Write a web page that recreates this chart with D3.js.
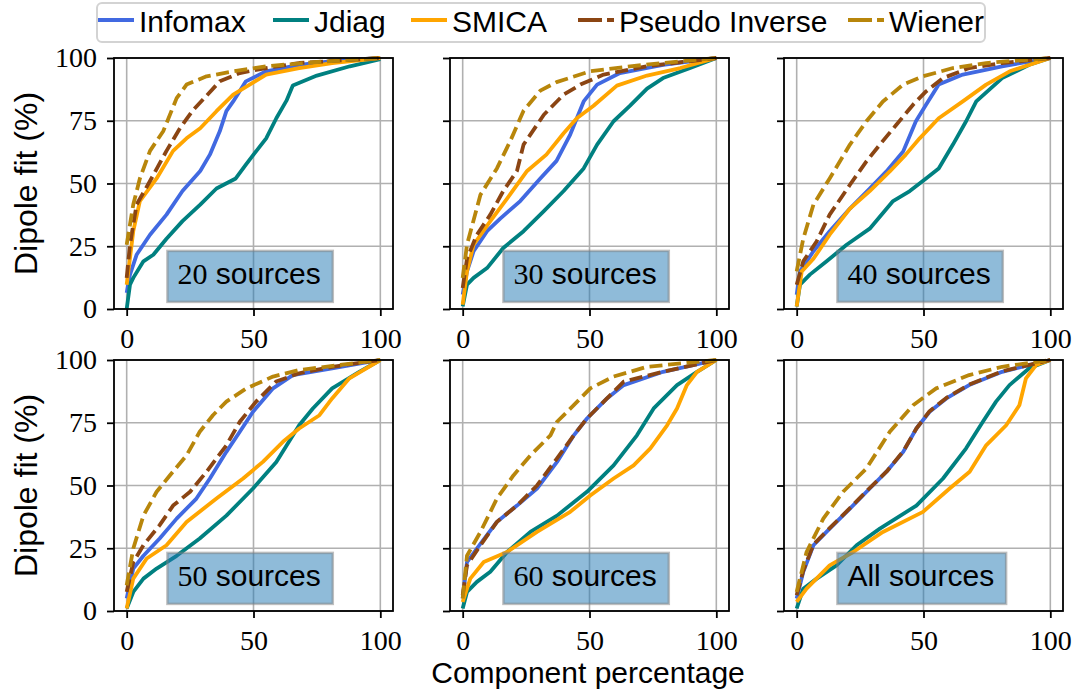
<!DOCTYPE html>
<html>
<head>
<meta charset="utf-8">
<script src="https://cdn.jsdelivr.net/npm/d3@7"></script>
<style>
  html, body { margin: 0; padding: 0; background: #fff; }
  svg { display: block; }
</style>
</head>
<body>
<svg id="chart" width="1081" height="695"></svg>
<script>
// ---------------- DATA ----------------
const methods = ["Infomax", "Jdiag", "SMICA", "Pseudo Inverse", "Wiener"];
const panelLabels = ["20", "30", "40", "50", "60", "All"];
const xTicks = [0, 50, 100];
const yTicks = [0, 25, 50, 75, 100];
const xLabel = "Component percentage";
const yLabel = "Dipole fit (%)";

// [component percentage, dipole fit %]
const src20 = {
  "Infomax": [[0,6.4],[1.3,13.7],[3.9,21.6],[9.2,29.6],[15.7,37.6],[22,47],[29,55],[32.8,61.5],[36.7,70.8],[39.3,78.8],[42,82.7],[47,90.7],[55,94.7],[68,97.3],[81,98.7],[100,100]],
  "Jdiag": [[0,0],[1.3,9.7],[2.6,12.4],[6.6,19],[10.5,21.6],[15.7,28],[22,35],[29,41.6],[35.4,48],[43,52],[47,57.5],[50,61.5],[55,68],[59,76],[63,83],[65.5,89],[75,93],[88,96.7],[100,99.5]],
  "SMICA": [[0,9.7],[2.6,31],[5.2,43],[11.8,52],[18.3,63],[23.6,68],[29,72],[35.4,78.8],[42,85.4],[48.5,89.4],[55,93.4],[68,96],[81,98],[100,100]],
  "Pseudo Inverse": [[0,12.4],[1.3,25.6],[3.9,41.6],[9.2,51],[15.7,63],[21,72],[26,79],[31.5,85],[36.7,90.7],[44.6,94],[55,96],[68,98],[100,100]],
  "Wiener": [[0,25.6],[2.6,41.6],[5.2,52],[9.2,63],[14.4,70.8],[19.7,84],[23.6,89.4],[31.5,92.7],[42,94.7],[55,96.7],[75,98.4],[100,100]]
};
const src30 = {
  "Infomax": [[0,5.7],[1.7,15],[4.3,23],[9.6,31],[14.8,36],[22.7,43],[30.6,52],[37,59],[42.4,69.5],[47.7,82.7],[53,89.4],[62,94],[79,97.3],[100,100]],
  "Jdiag": [[0,1],[1.7,9.7],[4.3,12.4],[9.6,16.3],[16,24.3],[24,31],[32,39],[39.8,47],[47.7,56],[53,65.5],[59.5,74.8],[66,81],[72.7,87.8],[79,92],[89.7,96],[100,100]],
  "SMICA": [[0,1.7],[1.7,15],[4.3,25.6],[10.9,35],[17.5,44],[25.4,55],[33,61.5],[39.8,70],[45,76],[51.6,81],[60.8,89],[72.7,93],[85.8,96],[100,100]],
  "Pseudo Inverse": [[0,8.4],[1.7,20],[5.6,29.6],[10.9,37.6],[16,47],[21.4,55],[24,65.5],[32,77.4],[39.8,85.4],[46.4,89.4],[55.6,93.4],[72.7,96.7],[100,100]],
  "Wiener": [[0,12.4],[1.7,25.6],[7,45.5],[13.5,56],[18.8,67],[24,79],[30.6,87],[37,90.4],[50.3,94.7],[66,96.7],[100,100]]
};
const src40 = {
  "Infomax": [[0,5.7],[1.3,15],[6.6,23],[13,31],[21,40],[28.8,48],[35.4,54.8],[42,62.8],[47,74.8],[51,81.4],[56,89.4],[65.5,93.4],[81,96.7],[100,100]],
  "Jdiag": [[0,1],[1.3,9.7],[5.2,13.7],[11.8,19],[19.7,25.6],[28.8,32],[38,43],[44.6,47],[51,52],[56,56],[61.6,65.5],[66.8,74.8],[70.8,82.7],[81,92],[91.7,97.3],[100,100]],
  "SMICA": [[0,1],[2,15],[6.6,20],[13,29.6],[21,40],[28.8,47],[36.7,54.8],[43,61.5],[48.5,68],[56,76],[65.5,82.7],[74.7,89.4],[84,94.7],[100,100]],
  "Pseudo Inverse": [[0,9.7],[2.6,19],[7.9,27],[13,37.6],[21,49.5],[27.5,58.8],[32.8,65.5],[39.3,73.4],[45.9,81.4],[51,86.7],[57.7,92],[68,96],[81,98],[100,100]],
  "Wiener": [[0,15],[2.6,28],[6.6,41.6],[13,52],[21,65.5],[27.5,74.8],[34,82.7],[42,89.4],[49.8,92.7],[61.6,96],[74.7,98],[100,100]]
};
const src50 = {
  "Infomax": [[0,5],[2.6,16.9],[6.6,22],[13,28.9],[19.7,36.8],[27.5,44.8],[32.8,52.8],[39.3,63.4],[44.6,71.4],[49.8,79.4],[57.7,88.7],[65.5,94],[81,96.7],[100,100]],
  "Jdiag": [[0,1],[2.6,7.6],[6.6,12.9],[11.8,16.9],[19.7,22],[28.8,28.9],[39.3,38],[49.8,48.8],[59,59.4],[68,74],[73.4,80.7],[81,88.7],[91.7,95.3],[100,100]],
  "SMICA": [[0,1],[2.6,12.9],[7.9,20.9],[15.7,26.2],[23.6,35.5],[35.4,44.8],[45.9,52.8],[53.7,59.4],[61.6,67.4],[68,72.7],[76,78],[81,84.7],[87.8,92.7],[100,100]],
  "Pseudo Inverse": [[0,7.6],[2.6,19.5],[6.6,26.2],[13,34.2],[18.3,42],[25,47.5],[31.5,55.5],[39.3,66],[44.6,75.4],[51,83.4],[58.9,91.4],[68,94.7],[81,97.3],[100,100]],
  "Wiener": [[0,10.2],[2.6,24.9],[6.6,38],[11.8,47.5],[17,54],[23.6,62],[28.8,71.4],[34,78],[39.3,83.4],[47.2,88.7],[57.7,93.4],[68,96],[100,100]]
};
const src60 = {
  "Infomax": [[0,5],[1.7,19.5],[5.6,24.9],[13.5,35.5],[21.4,42],[29.3,48.8],[37.2,59.4],[43.8,70],[49,76.7],[56.9,84.7],[63.5,90],[79,95.3],[100,100]],
  "Jdiag": [[0,1],[1.7,7.6],[5.6,11.6],[10.9,15.6],[17.5,23.5],[26.7,31.5],[37.2,38],[49,47.5],[59.5,58],[68.7,70],[75.3,80.7],[84.5,90],[92.4,95.3],[100,100]],
  "SMICA": [[0,3.6],[3,12.9],[8.3,19.5],[17.5,23.5],[29.3,31.5],[42.4,39.5],[50.3,46],[59.5,52.8],[67.4,58],[74,64.8],[80.6,74],[84.5,80.7],[88.4,90],[92.4,95.3],[100,100]],
  "Pseudo Inverse": [[0,6.3],[1.7,18.2],[7,26.2],[13.5,35.5],[21.4,42],[29.3,50],[37.2,60.8],[43.8,70],[49,76.7],[56.9,84.7],[63.5,91.4],[79,95.3],[100,100]],
  "Wiener": [[0,5],[1.7,22],[7,31.5],[13.5,44.8],[20,54],[26.7,62],[34.6,70],[37.2,75.4],[43.8,82],[50.3,88.7],[59.5,93.4],[72.7,97.3],[100,100]]
};
const srcAll = {
  "Infomax": [[0,5],[2.6,15.6],[6.6,26.2],[13,32.8],[21,40.8],[28.8,48.8],[35.4,55.5],[42,63.4],[47.2,72.7],[52.4,79.4],[59,84.7],[68,90],[81,95.3],[100,100]],
  "Jdiag": [[0,1],[2.6,8.9],[7.9,12.9],[15.7,18.2],[23.6,26.2],[32.8,32.8],[47.2,42],[57.7,52.8],[66.8,64.8],[73.4,75.4],[78.6,83.4],[83.9,90],[91.7,96.7],[100,100]],
  "SMICA": [[0,3.6],[3.9,8.9],[13,18.2],[22.3,23.5],[34,31.5],[49.8,39.5],[60.3,48.8],[68.2,55.5],[74.7,66],[82.6,74],[87.8,82],[90.4,92.7],[94.4,98],[100,100]],
  "Pseudo Inverse": [[0,6.3],[2.6,16],[6.6,26.5],[13,33],[21,41],[28.8,49],[35.4,55.5],[42,63.6],[47.2,72.7],[52.4,79.6],[59,84.9],[68,90.2],[81,95.5],[100,100]],
  "Wiener": [[0,7.6],[3.9,23.5],[10.5,36.8],[18.3,47.5],[27.5,56.8],[36.7,71.4],[45.9,82],[55,88.7],[68,94],[81,97.3],[100,100]]
};
const panelData = [src20, src30, src40, src50, src60, srcAll];

// ---------------- STYLE / LAYOUT ----------------
const colors = {
  "Infomax": "#4169e1", "Jdiag": "#008080", "SMICA": "#ffa500",
  "Pseudo Inverse": "#8b4513", "Wiener": "#b8860b"
};
const dashed = { "Pseudo Inverse": true, "Wiener": true };
const SANS = "'Liberation Sans', Arial, sans-serif";
const SERIF = "'Liberation Serif', 'Times New Roman', serif";

const colLeft = [114, 450, 784];
const rowTop = [58, 360];
const pw = 279, ph = 251;

const svg = d3.select("#chart");
svg.append("rect").attr("width", 1081).attr("height", 695).attr("fill", "#fff");

panelData.forEach((pd, i) => {
  const col = i % 3, row = Math.floor(i / 3);
  const L = colLeft[col], T = rowTop[row];
  const x = d3.scaleLinear().domain([-5, 105]).range([L, L + pw]);
  const y = d3.scaleLinear().domain([0, 100]).range([T + ph, T]);
  const g = svg.append("g");

  // grid
  g.selectAll(".gx").data(xTicks).join("line")
    .attr("x1", d => x(d)).attr("x2", d => x(d)).attr("y1", T).attr("y2", T + ph)
    .attr("stroke", "#b0b0b0").attr("stroke-width", 1.6);
  g.selectAll(".gy").data(yTicks).join("line")
    .attr("x1", L).attr("x2", L + pw).attr("y1", d => y(d)).attr("y2", d => y(d))
    .attr("stroke", "#b0b0b0").attr("stroke-width", 1.6);

  // lines
  const line = d3.line().x(d => x(d[0])).y(d => y(d[1]));
  methods.forEach(m => {
    g.append("path").datum(pd[m])
      .attr("d", line)
      .attr("fill", "none")
      .attr("stroke", colors[m])
      .attr("stroke-width", 3.8)
      .attr("stroke-linejoin", "round")
      .attr("stroke-dasharray", dashed[m] ? "13,5.6" : null);
  });

  // frame
  g.append("rect").attr("x", L).attr("y", T).attr("width", pw).attr("height", ph)
    .attr("fill", "none").attr("stroke", "#000").attr("stroke-width", 1.8);

  // axes
  const ax = g.append("g").attr("transform", `translate(0,${T + ph})`)
    .call(d3.axisBottom(x).tickValues(xTicks).tickSize(7).tickPadding(12).tickFormat(d3.format("d")));
  const ay = g.append("g").attr("transform", `translate(${L},0)`)
    .call(d3.axisLeft(y).tickValues(yTicks).tickSize(7).tickPadding(10)
      .tickFormat(col === 0 ? d3.format("d") : () => ""));
  [ax, ay].forEach(a => {
    a.select(".domain").remove();
    a.selectAll(".tick line").attr("stroke", "#000").attr("stroke-width", 1.8);
    a.selectAll(".tick text").attr("font-family", SERIF).attr("font-size", 28).attr("fill", "#000");
  });

  // annotation box
  const tx = x(20), ty = y(10);
  const t = g.append("text").attr("x", tx).attr("y", ty)
    .attr("font-size", 30).attr("fill", "#000");
  const lab = panelLabels[i];
  if (/^\d+$/.test(lab)) {
    t.append("tspan").attr("font-family", SERIF).text(lab);
    t.append("tspan").attr("font-family", SANS).text(" sources");
  } else {
    t.append("tspan").attr("font-family", SANS).text(lab + " sources");
  }
  const tw = t.node().getComputedTextLength();
  g.insert("rect", function () { return t.node(); })
    .attr("x", tx - 10).attr("y", ty - 33).attr("width", tw + 22).attr("height", 51)
    .attr("fill", "#1f77b4").attr("fill-opacity", 0.5)
    .attr("stroke", "#808080").attr("stroke-opacity", 0.5).attr("stroke-width", 2.5);

  // y label
  if (col === 0) {
    svg.append("text")
      .attr("transform", `translate(37,${T + ph / 2}) rotate(-90)`)
      .attr("text-anchor", "middle")
      .attr("font-family", SANS).attr("font-size", 32).attr("fill", "#000")
      .text(yLabel);
  }
});

// x label
svg.append("text").attr("x", 588).attr("y", 683)
  .attr("text-anchor", "middle")
  .attr("font-family", SANS).attr("font-size", 30).attr("fill", "#000")
  .text(xLabel);

// legend
const lg = svg.append("g");
lg.append("rect").attr("x", 97).attr("y", 3).attr("width", 888).attr("height", 39)
  .attr("rx", 5).attr("fill", "#fff").attr("stroke", "#d3d3d3").attr("stroke-width", 2);
const handleX = [98, 273, 411, 578, 848];
methods.forEach((m, k) => {
  const hx = handleX[k];
  lg.append("line").attr("x1", hx).attr("x2", hx + 36).attr("y1", 20).attr("y2", 20)
    .attr("stroke", colors[m]).attr("stroke-width", 3.8)
    .attr("stroke-dasharray", dashed[m] ? "24,5,7,40" : null);
  lg.append("text").attr("x", hx + 41).attr("y", 31.5)
    .attr("font-family", SANS).attr("font-size", 30).attr("fill", "#000")
    .text(m);
});
</script>
</body>
</html>
